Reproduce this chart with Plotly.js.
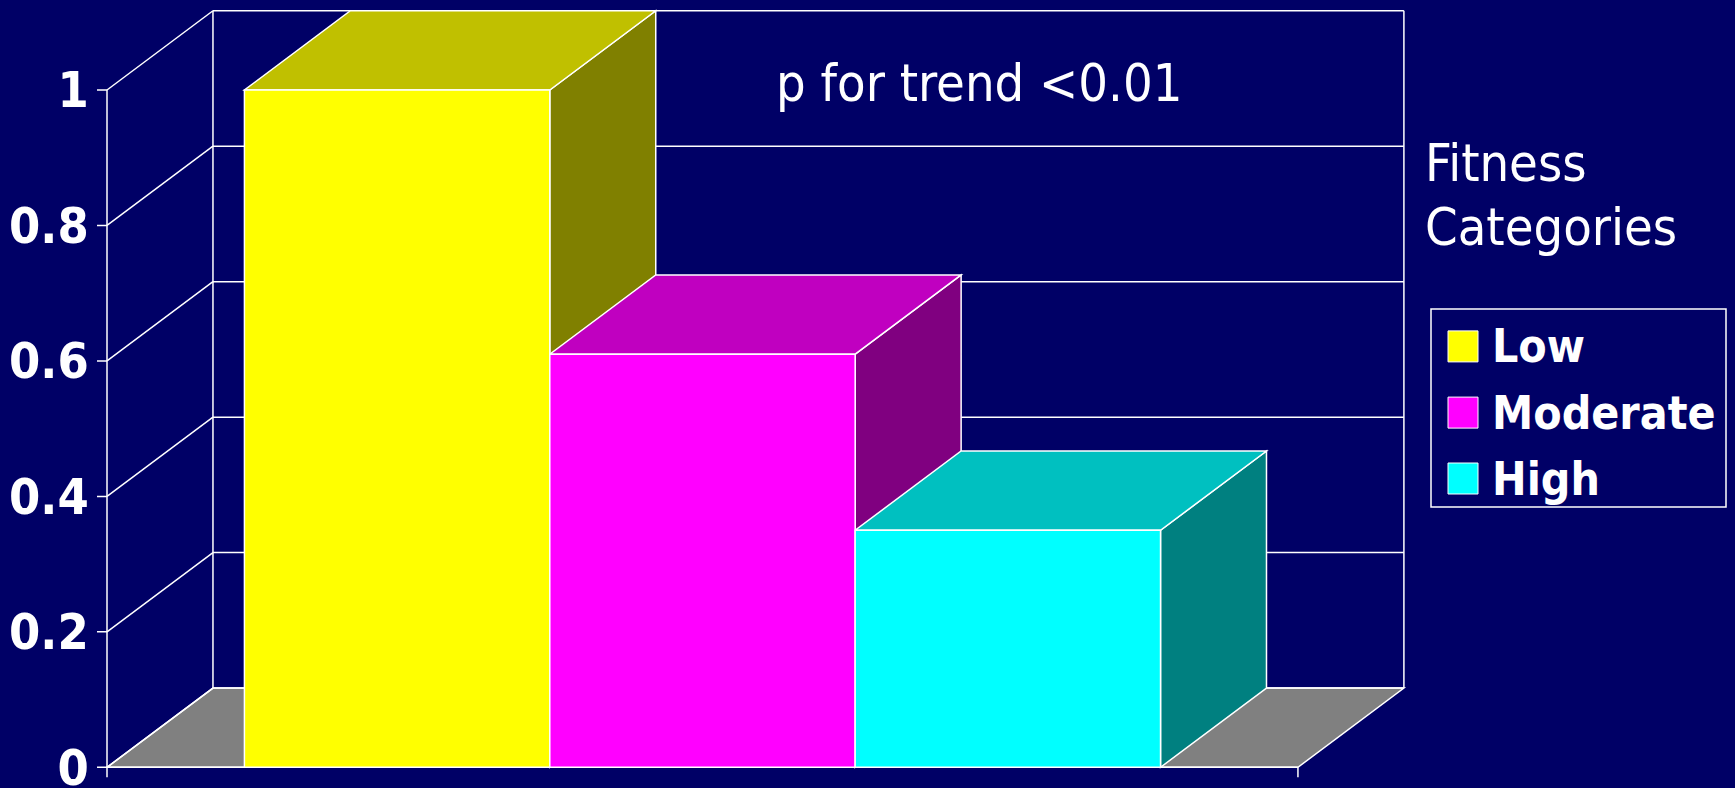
<!DOCTYPE html>
<html>
<head>
<meta charset="utf-8">
<script src="https://cdn.plot.ly/plotly-3.0.1.min.js"></script>
<style>
  html, body { margin: 0; padding: 0; background: #000066; }
  #chart { width: 1735px; height: 788px; }
</style>
</head>
<body>
<div id="chart"></div>
<script>
// Relative risk by fitness category
const categories = ['Low', 'Moderate', 'High'];
const riskValues = [1.0, 0.61, 0.35];
const frontColors = ['#ffff00', '#ff00ff', '#00ffff'];
const topColors = ['#c0c000', '#c000c0', '#00c0c0'];
const sideColors = ['#808000', '#800080', '#008080'];
const yTickValues = [0, 0.2, 0.4, 0.6, 0.8, 1];
const yTickLabels = ['0', '0.2', '0.4', '0.6', '0.8', '1'];
const trendNote = 'p for trend <0.01';
const legendTitleLines = ['Fitness', 'Categories'];

// Figure size and the pseudo-3D geometry (in axis units)
const W = 1735, H = 788;
const FONT = "'DejaVu Sans Condensed', 'DejaVu Sans', sans-serif";
const sidePad = 0.45;           // floor beyond the outer bars
const depthX = 0.347;           // receding depth, x units
const depthY = 0.117;           // receding depth, y units
const xL = -0.5 - sidePad;
const xR = categories.length - 0.5 + sidePad;
const xRange = [xL - 0.05, xR + depthX + 0.012];
const yRange = [-0.02, 1 + depthY + 0.004];

// pixel placement of the plotting box
const pxPerX = 305.37, frontLeftPx = 107;
const pxPerY = 677.3, zeroPx = 767.3;
const domLeftPx = frontLeftPx + (xRange[0] - xL) * pxPerX;
const domRightPx = frontLeftPx + (xRange[1] - xL) * pxPerX;
const domBottomPx = zeroPx - yRange[0] * pxPerY;
const domTopPx = zeroPx - yRange[1] * pxPerY;

const WHITE = '#ffffff';
const edge = { color: WHITE, width: 1.5 };

function seg(x0, y0, x1, y1) {
  return { type: 'line', xref: 'x', yref: 'y', x0, y0, x1, y1, line: edge, layer: 'below' };
}
function poly(pts, fill) {
  return {
    type: 'path', xref: 'x', yref: 'y', layer: 'below',
    path: 'M' + pts.map(p => p[0] + ',' + p[1]).join('L') + 'Z',
    fillcolor: fill, line: edge
  };
}

const shapes = [];
// floor
shapes.push(poly([[xL, 0], [xR, 0], [xR + depthX, depthY], [xL + depthX, depthY]], '#808080'));
// left wall diagonals and back-wall grid lines
yTickValues.forEach(v => {
  shapes.push(seg(xL, v, xL + depthX, v + depthY));
  shapes.push(seg(xL + depthX, v + depthY, xR + depthX, v + depthY));
});
// back wall verticals
shapes.push(seg(xL + depthX, depthY, xL + depthX, 1 + depthY));
shapes.push(seg(xR + depthX, depthY, xR + depthX, 1 + depthY));
// front value axis with tick marks
const tickLenX = 10 / pxPerX, tickLenY = 10 / pxPerY;
shapes.push(seg(xL, -tickLenY, xL, 1));
yTickValues.forEach(v => shapes.push(seg(xL - tickLenX, v, xL, v)));
// front category axis
shapes.push(seg(xL, 0, xR, 0));
shapes.push(seg(xR, 0, xR, -tickLenY));

// side and top faces of each bar, left to right so nearer faces cover farther ones
categories.forEach((c, i) => {
  const v = riskValues[i];
  const a = i - 0.5, b = i + 0.5;
  shapes.push(poly([[b, 0], [b, v], [b + depthX, v + depthY], [b + depthX, depthY]], sideColors[i]));
  shapes.push(poly([[a, v], [b, v], [b + depthX, v + depthY], [a + depthX, v + depthY]], topColors[i]));
});

// legend box with swatches
const px2x = p => p / W;
const px2y = p => 1 - p / H;
const legendRows = [346.4, 412.6, 478.5];
shapes.push({
  type: 'rect', xref: 'paper', yref: 'paper', layer: 'above',
  x0: px2x(1431), x1: px2x(1726), y0: px2y(507), y1: px2y(309),
  line: edge, fillcolor: 'rgba(0,0,0,0)'
});
categories.forEach((c, i) => {
  shapes.push({
    type: 'rect', xref: 'paper', yref: 'paper', layer: 'above',
    x0: px2x(1448), x1: px2x(1478), y0: px2y(legendRows[i] + 15.5), y1: px2y(legendRows[i] - 15.5),
    line: { color: WHITE, width: 1 }, fillcolor: frontColors[i]
  });
});

const annotations = categories.map((c, i) => ({
  xref: 'paper', yref: 'paper', x: px2x(1490), y: px2y(legendRows[i]),
  xanchor: 'left', yanchor: 'middle', showarrow: false, text: c,
  font: { family: FONT, size: 46, color: WHITE, weight: 'bold' }
}));
annotations.push({
  xref: 'paper', yref: 'paper', x: px2x(774), y: px2y(83.5),
  xanchor: 'left', yanchor: 'middle', showarrow: false, text: trendNote,
  font: { family: FONT, size: 52, color: WHITE }
});
const titleRows = [163, 227];
legendTitleLines.forEach((t, i) => annotations.push({
  xref: 'paper', yref: 'paper', x: px2x(1423), y: px2y(titleRows[i]),
  xanchor: 'left', yanchor: 'middle', showarrow: false, align: 'left', text: t,
  font: { family: FONT, size: 52, color: WHITE }
}));

// front faces of the bars
const traces = categories.map((c, i) => ({
  type: 'bar', name: c, x: [i], y: [riskValues[i]], width: 1,
  marker: { color: frontColors[i], line: edge },
  hoverinfo: 'name+y'
}));

const layout = {
  width: W, height: H,
  margin: { l: 0, r: 0, t: 0, b: 0, pad: 0 },
  paper_bgcolor: '#000066', plot_bgcolor: '#000066',
  showlegend: false, barmode: 'overlay',
  xaxis: {
    domain: [domLeftPx / W, domRightPx / W], range: xRange,
    showgrid: false, zeroline: false, showline: false, showticklabels: false, ticks: ''
  },
  yaxis: {
    domain: [1 - domBottomPx / H, 1 - domTopPx / H], range: yRange,
    tickvals: yTickValues, ticktext: yTickLabels,
    showgrid: false, zeroline: false, showline: false, ticks: '',
    ticklabelstandoff: 2, ticklabeloverflow: 'allow',
    tickfont: { family: FONT, size: 50, color: WHITE, weight: 'bold' }
  },
  shapes, annotations
};

Plotly.newPlot('chart', traces, layout, { displayModeBar: false, staticPlot: true });
</script>
</body>
</html>
